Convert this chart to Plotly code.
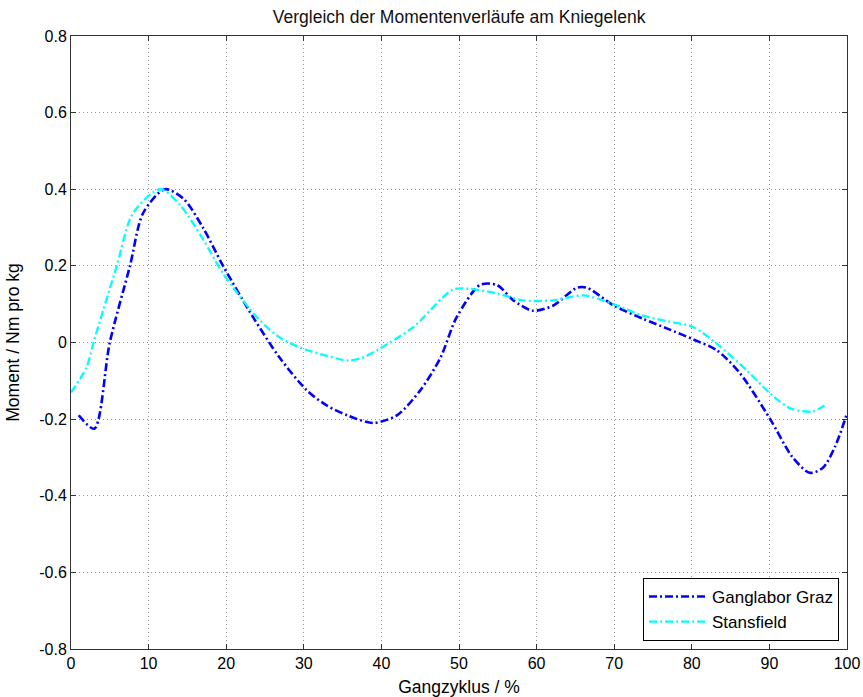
import plotly.graph_objects as go

# Ganglabor Graz (blue)
graz_x = [1, 3, 5, 7.6, 9.3, 12.1, 14.5, 17, 19.6, 23.5, 26.9, 30.4, 33, 35.6, 38.9, 42, 45, 47.6, 49.7, 52.7, 54.9, 57, 59.5, 62.1, 65.2, 66.5, 69.9, 73.7, 77, 80.2, 83.2, 86.2, 90.1, 93, 95.2, 96.9, 98.5, 100]
graz_y = [-0.19, -0.225, 0.0, 0.2, 0.338, 0.4, 0.375, 0.3, 0.2, 0.065, -0.04, -0.125, -0.165, -0.19, -0.21, -0.19, -0.125, -0.04, 0.066, 0.15, 0.15, 0.11, 0.083, 0.096, 0.143, 0.143, 0.097, 0.062, 0.035, 0.008, -0.02, -0.08, -0.2, -0.3, -0.34, -0.327, -0.27, -0.185]

# Stansfield (cyan)
stans_x = [0, 2, 2.9, 5.9, 8, 11.5, 14, 17, 19.6, 24, 26.9, 29.9, 33, 35.6, 37.5, 39.8, 44.1, 49.2, 51.4, 54.9, 58.2, 62.1, 66, 69.9, 73.7, 77, 80.2, 83.2, 87.1, 90.1, 92.7, 95.6, 97.4]
stans_y = [-0.13, -0.065, 0.0, 0.2, 0.338, 0.4, 0.36, 0.27, 0.18, 0.065, 0.013, -0.016, -0.035, -0.047, -0.04, -0.016, 0.04, 0.138, 0.14, 0.128, 0.11, 0.11, 0.123, 0.1, 0.07, 0.055, 0.04, -0.003, -0.073, -0.133, -0.172, -0.18, -0.16]

x_ticks = [0, 10, 20, 30, 40, 50, 60, 70, 80, 90, 100]
y_ticks = [-0.8, -0.6, -0.4, -0.2, 0, 0.2, 0.4, 0.6, 0.8]
y_tick_labels = ["-0.8", "-0.6", "-0.4", "-0.2", "0", "0.2", "0.4", "0.6", "0.8"]

dash = "8px,3px,2px,3px"

fig = go.Figure()
fig.add_trace(go.Scatter(x=graz_x, y=graz_y, mode="lines", name="Ganglabor Graz",
                         line=dict(color="#0000FF", width=2.6, dash=dash, shape="spline", smoothing=0.8)))
fig.add_trace(go.Scatter(x=stans_x, y=stans_y, mode="lines", name="Stansfield",
                         line=dict(color="#00FFFF", width=2.3, dash=dash, shape="spline", smoothing=0.8)))

font_family = "Liberation Sans, Arial, sans-serif"

fig.update_layout(
    width=863, height=697,
    margin=dict(l=71, r=16, t=36, b=48),
    paper_bgcolor="white", plot_bgcolor="white",
    font=dict(family=font_family, size=16, color="black"),
    title=dict(text="Vergleich der Momentenverläufe am Kniegelenk", x=0.532, xanchor="center",
               y=1 - 17 / 697, yanchor="middle", font=dict(size=17.5, family=font_family, color="#111111")),
    showlegend=True,
    legend=dict(x=1 - 8 / 776, y=8 / 613, xanchor="right", yanchor="bottom",
                bgcolor="white", bordercolor="black", borderwidth=1, itemwidth=58,
                font=dict(size=17, family=font_family), tracegroupgap=0),
)

grid_style = dict(showgrid=True, gridcolor="#9A9A9A", griddash="1px,3px", gridwidth=1,
                  showline=True, linecolor="#333333", linewidth=1, mirror="ticks",
                  ticks="inside", ticklen=5, tickcolor="#333333", zeroline=False,
                  automargin=False)

fig.update_xaxes(range=[0, 100], tickvals=x_ticks, ticktext=[str(v) for v in x_ticks],
                 title=dict(text="Gangzyklus / %", font=dict(size=17.5)),
                 tickfont=dict(size=16), **grid_style)
fig.update_yaxes(range=[-0.8, 0.8], tickvals=y_ticks, ticktext=y_tick_labels,
                 title=dict(text="Moment / Nm pro kg", font=dict(size=17.5)),
                 tickfont=dict(size=16), **grid_style)

fig.write_html("out.html")
